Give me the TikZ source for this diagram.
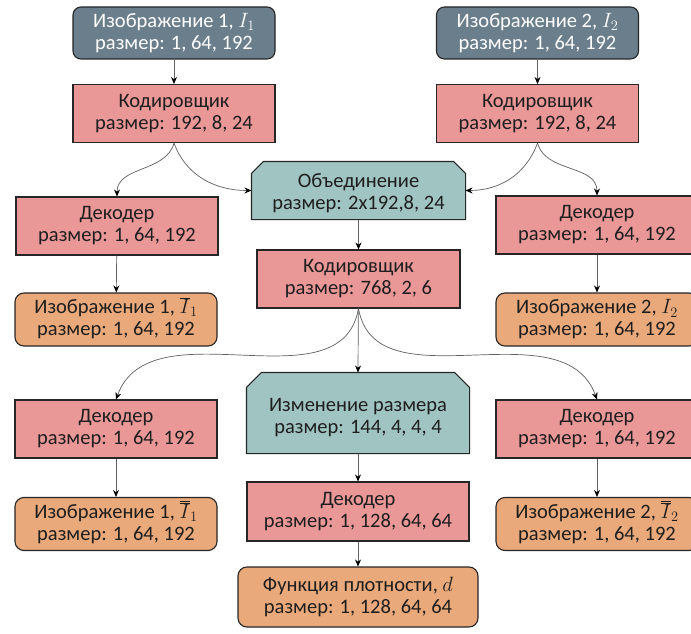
\documentclass[tikz,border=0pt]{standalone}
\usepackage{fontspec}
\setmainfont{Carlito}
\usetikzlibrary{arrows.meta,backgrounds}
\definecolor{slate}{HTML}{6A7E8C}
\definecolor{pinkred}{HTML}{EA9797}
\definecolor{tealc}{HTML}{A0C4C1}
\definecolor{orangec}{HTML}{EAA97B}
\definecolor{bord}{HTML}{262626}
\definecolor{connc}{HTML}{606060}
\definecolor{txt}{HTML}{1E1E1E}
\newcommand{\sbarI}[1]{\smash{\overline{I}_{#1}}}
\newcommand{\dbarI}[1]{\smash{\overline{\overline{I}}_{#1}}}
\begin{document}
\begin{tikzpicture}[x=1pt,y=1pt,
 base/.style={align=center, inner sep=0pt, line width=1.1pt, draw=bord, font=\fontsize{20.5}{22}\selectfont, text=txt},
 inbox/.style={base, fill=slate, rounded corners=8pt, text=white, minimum width=202pt, minimum height=52pt},
 codebox/.style={base, fill=pinkred, minimum width=202pt, minimum height=58pt},
 outbox/.style={base, fill=orangec, rounded corners=9pt, minimum width=202pt, minimum height=53pt},
 chambox/.style={base, draw=none},
 chamfill/.style={fill=tealc, draw=bord, line width=1.1pt},
 conn/.style={draw=connc, line width=0.7pt, -{Stealth[length=7pt,width=6pt,color=black]}},
]
\useasboundingbox (0,0) rectangle (691,-634);

\node[inbox] (img1) at (174,-33) {Изображение 1, $I_1$\\размер: 1, 64, 192};
\node[inbox] (img2) at (537.5,-33) {Изображение 2, $I_2$\\размер: 1, 64, 192};
\node[codebox] (enc1) at (174,-113.5) {Кодировщик\\размер: 192, 8, 24};
\node[codebox] (enc2) at (537.5,-113.5) {Кодировщик\\размер: 192, 8, 24};
% text sits a little below the middle of the chamfered boxes
\node[chambox, minimum width=213pt, minimum height=57pt] (merge) at (358.5,-193.5) {Объединение\\размер: 2x192,8, 24};
\node[codebox] (decL1) at (117,-226) {Декодер\\размер: 1, 64, 192};
\node[codebox] (decR1) at (597,-225) {Декодер\\размер: 1, 64, 192};
\node[codebox, minimum width=203pt] (enc3) at (358.5,-279) {Кодировщик\\размер: 768, 2, 6};
\node[outbox] (outL1) at (116,-319.5) {Изображение 1, $\sbarI{1}$\\размер: 1, 64, 192};
\node[outbox] (outR1) at (597,-319.5) {Изображение 2, $I_2$\\размер: 1, 64, 192};
\node[chambox, minimum width=222pt, minimum height=80pt] (resize) at (358,-418) {Изменение размера\\размер: 144, 4, 4, 4};
\node[codebox] (decL2) at (116,-429) {Декодер\\размер: 1, 64, 192};
\node[codebox] (decR2) at (597,-429) {Декодер\\размер: 1, 64, 192};
\node[codebox, minimum width=222pt, minimum height=59pt] (decM) at (358,-511.5) {Декодер\\размер: 1, 128, 64, 64};
\node[outbox] (outL2) at (116,-524) {Изображение 1, $\dbarI{1}$\\размер: 1, 64, 192};
\node[outbox] (outR2) at (597,-524) {Изображение 2, $\dbarI{2}$\\размер: 1, 64, 192};
\node[outbox, minimum width=240pt, minimum height=60pt] (dens) at (358,-597) {Функция плотности, $d$\\размер: 1, 128, 64, 64};

% outlines of the chamfered boxes, shifted up from the text box
\coordinate (mSW) at ([yshift=3pt]merge.south west);
\coordinate (mSE) at ([yshift=3pt]merge.south east);
\coordinate (mNW) at ([yshift=3pt]merge.north west);
\coordinate (mNE) at ([yshift=3pt]merge.north east);
\coordinate (mS) at ([yshift=3pt]merge.south);
\coordinate (rSW) at ([yshift=5pt]resize.south west);
\coordinate (rSE) at ([yshift=5pt]resize.south east);
\coordinate (rNW) at ([yshift=5pt]resize.north west);
\coordinate (rNE) at ([yshift=5pt]resize.north east);
\coordinate (rN) at ([yshift=5pt]resize.north);
\coordinate (rS) at ([yshift=5pt]resize.south);

\begin{scope}[on background layer]
\fill[white] (0,0) rectangle (691,-634);
\filldraw[chamfill] (mSW) -- ([yshift=-12pt]mNW) -- ([xshift=12pt]mNW) -- ([xshift=-12pt]mNE) -- ([yshift=-12pt]mNE) -- (mSE) -- cycle;
\filldraw[chamfill] (rSW) -- ([yshift=-15pt]rNW) -- ([xshift=15pt]rNW) -- ([xshift=-15pt]rNE) -- ([yshift=-15pt]rNE) -- (rSE) -- cycle;
\end{scope}

\draw[conn] (img1) -- (enc1);
\draw[conn] (img2) -- (enc2);
\draw[conn] (enc1.south) to[out=-105,in=90] (decL1.north);
\draw[conn] (enc1.south) to[out=-70,in=180] ([yshift=3pt]merge.west);
\draw[conn] (enc2.south) to[out=-110,in=0] ([yshift=3pt]merge.east);
\draw[conn] (enc2.south) to[out=-75,in=90] (decR1.north);
\draw[conn] (mS) -- (enc3);
\draw[conn] (decL1) -- (outL1);
\draw[conn] (decR1) -- (outR1);
\draw[conn] (enc3.south) to[out=-100,in=70] (decL2.north);
\draw[conn] (enc3.south) to[out=-80,in=110] (decR2.north);
\draw[conn] (enc3) -- (rN);
\draw[conn] (rS) -- (decM);
\draw[conn] (decM) -- (dens);
\draw[conn] (decL2) -- (outL2);
\draw[conn] (decR2) -- (outR2);
\end{tikzpicture}
\end{document}
